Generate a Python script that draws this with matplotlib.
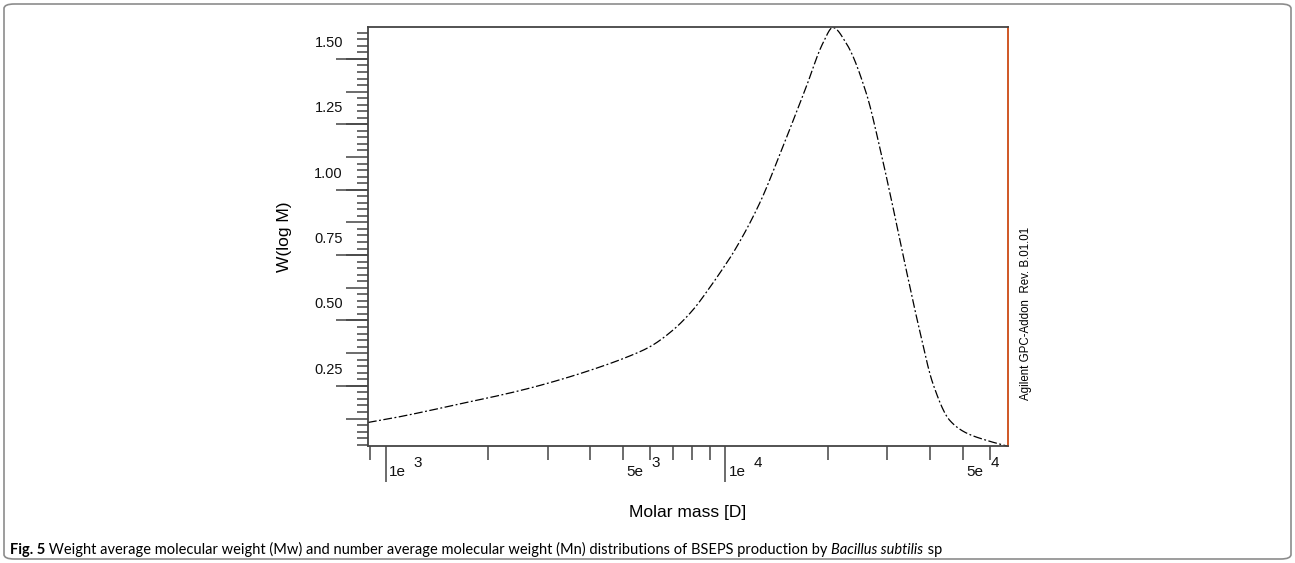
import numpy as np
import matplotlib
matplotlib.use("Agg")
import matplotlib.pyplot as plt
from matplotlib.patches import FancyBboxPatch
from matplotlib.ticker import FixedLocator, NullFormatter
import matplotlib.transforms as mtransforms

# GPC molar mass distribution
molar_mass = [887, 1051, 1318, 1651, 2070, 2596, 3253, 4077, 5112, 5988, 7010,
              8027, 8990, 10068, 10530, 12620, 14780, 17320, 19380, 20740,
              22710, 26010, 28470, 31150, 34110, 37330, 40860, 45740, 51230,
              58670, 67920]
w_log_m = [0.110, 0.127, 0.153, 0.181, 0.208, 0.238, 0.273, 0.313, 0.359, 0.399,
           0.463, 0.540, 0.625, 0.718, 0.757, 0.948, 1.165, 1.394, 1.560,
           1.620, 1.560, 1.369, 1.165, 0.935, 0.693, 0.463, 0.259, 0.119, 0.070,
           0.042, 0.019]

y_major = [0.25, 0.50, 0.75, 1.00, 1.25, 1.50]
y_labels = ["0.25", "0.50", "0.75", "1.00", "1.25", "1.50"]
x_label_pos = [1e3, 5e3, 1e4, 5e4]
x_label_mant = ["1e", "5e", "1e", "5e"]
x_label_exp = ["3", "3", "4", "4"]

plt.rcParams['font.family'] = ['Liberation Sans', 'DejaVu Sans']
DPI = 100
axis_col = "#444444"


def pchip(x, y, xn):
    # monotone cubic through the read points (Fritsch-Carlson)
    x = np.asarray(x, float)
    y = np.asarray(y, float)
    h = np.diff(x)
    d = np.diff(y) / h
    m = np.zeros_like(y)
    m[0], m[-1] = d[0], d[-1]
    for k in range(1, len(x) - 1):
        if d[k - 1] * d[k] > 0:
            w1 = 2 * h[k] + h[k - 1]
            w2 = h[k] + 2 * h[k - 1]
            m[k] = (w1 + w2) / (w1 / d[k - 1] + w2 / d[k])
    idx = np.clip(np.searchsorted(x, xn) - 1, 0, len(x) - 2)
    t = (xn - x[idx]) / h[idx]
    h00 = 2 * t**3 - 3 * t**2 + 1
    h10 = t**3 - 2 * t**2 + t
    h01 = -2 * t**3 + 3 * t**2
    h11 = t**3 - t**2
    return h00 * y[idx] + h10 * h[idx] * m[idx] + h01 * y[idx + 1] + h11 * h[idx] * m[idx + 1]


fig = plt.figure(figsize=(12.95, 5.63), dpi=DPI)
ax = fig.add_axes([368 / 1295, 1 - 446 / 563, 640 / 1295, (446 - 27.3) / 563])

lx = np.log10(molar_mass)
xs = np.linspace(lx[0], lx[-1], 800)
ys = pchip(lx, w_log_m, xs)
ax.plot(10 ** xs, ys, color='black', lw=0.9, linestyle=(0, (7, 2, 1.5, 2)), clip_on=False)

ax.set_xscale('log')
ax.set_xlim(887, 68000)
ax.set_ylim(0.02, 1.621)

for s in ['left', 'bottom', 'top']:
    ax.spines[s].set_color(axis_col)
    ax.spines[s].set_linewidth(1.3)
ax.spines['right'].set_color('#cc4a14')
ax.spines['right'].set_linewidth(1.3)

# x ticks: long decades, short minors
ax.xaxis.set_major_locator(FixedLocator([1e3, 1e4]))
minors = [m * 10 ** e for e in (2, 3, 4) for m in range(2, 10)]
ax.xaxis.set_minor_locator(FixedLocator([v for v in minors if 887 <= v <= 68000]))
ax.xaxis.set_major_formatter(NullFormatter())
ax.xaxis.set_minor_formatter(NullFormatter())
ax.tick_params(axis='x', which='major', length=26, width=1.1, color=axis_col, direction='out')
ax.tick_params(axis='x', which='minor', length=10, width=1.1, color=axis_col, direction='out')

# y ticks: medium every 0.125, small every 0.025, long every 0.25
ax.yaxis.set_major_locator(FixedLocator(np.arange(0.125, 1.62, 0.125)))
ax.yaxis.set_minor_locator(FixedLocator(np.arange(0.025, 1.62, 0.025)))
ax.yaxis.set_major_formatter(NullFormatter())
ax.tick_params(axis='y', which='major', length=16, width=1.1, color=axis_col, direction='out')
ax.tick_params(axis='y', which='minor', length=8, width=1.1, color=axis_col, direction='out')
sec = ax.secondary_yaxis('left')
sec.set_yticks(y_major)
sec.set_yticklabels([])
sec.tick_params(axis='y', length=23, width=1.1, color=axis_col)
sec.spines['left'].set_visible(False)

ytr = ax.get_yaxis_transform() + mtransforms.ScaledTranslation(-25 / DPI, 16 / DPI, fig.dpi_scale_trans)
for v, lab in zip(y_major, y_labels):
    ax.text(0, v, lab, transform=ytr, ha='right', va='center', fontsize=10.5, color='#111111')

for v, m, e in zip(x_label_pos, x_label_mant, x_label_exp):
    t1 = ax.get_xaxis_transform() + mtransforms.ScaledTranslation(3.5 / DPI, -26 / DPI, fig.dpi_scale_trans)
    ax.text(v, 0, m, transform=t1, ha='left', va='center', fontsize=11, color='#111111')
    t2 = ax.get_xaxis_transform() + mtransforms.ScaledTranslation(28 / DPI, -17 / DPI, fig.dpi_scale_trans)
    ax.text(v, 0, e, transform=t2, ha='left', va='center', fontsize=11, color='#111111')

fig.text(688 / 1295, 1 - 513 / 563, "Molar mass [D]", ha='center', va='center', fontsize=12.5)
fig.text(284 / 1295, 1 - 237 / 563, "W(log M)", ha='center', va='center', rotation=90, fontsize=12.5)
fig.text(1026 / 1295, 1 - 313 / 563, "Agilent GPC-Addon  Rev. B.01.01", ha='center', va='center',
         rotation=90, fontsize=8.3)

# caption
cap = dict(fontsize=10.5, family=['Lato', 'DejaVu Sans'], va='bottom')
t = fig.text(10 / 1295, 1 - 557 / 563, "Fig. 5", fontweight='bold', **cap)
t = ax.annotate(" Weight average molecular weight (Mw) and number average molecular weight (Mn) "
                "distributions of BSEPS production by ", xy=(1, 0), xycoords=t, annotation_clip=False, **cap)
t = ax.annotate("Bacillus subtilis", xy=(1, 0), xycoords=t, style='italic', annotation_clip=False, **cap)
ax.annotate(" sp", xy=(1, 0), xycoords=t, annotation_clip=False, **cap)

border = FancyBboxPatch((4 / 1295, 4 / 563), 1287 / 1295, 555 / 563,
                        boxstyle="round,pad=0,rounding_size=0.008", transform=fig.transFigure,
                        fill=False, edgecolor='#8c8c8c', lw=1.2)
fig.patches.append(border)

fig.savefig("out.png", dpi=DPI)
